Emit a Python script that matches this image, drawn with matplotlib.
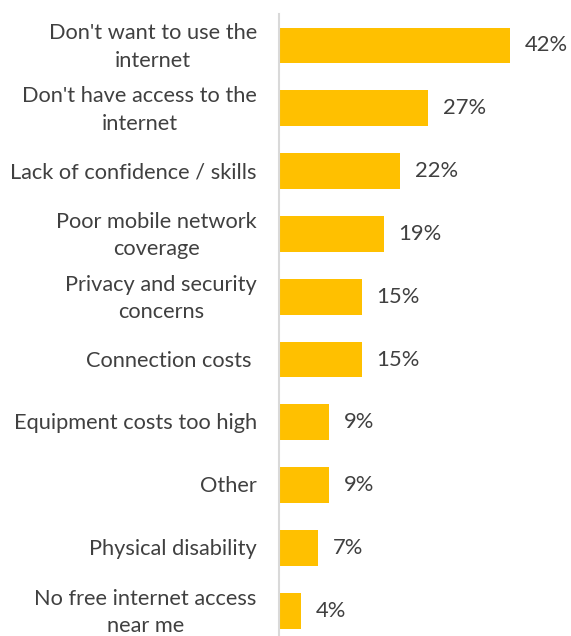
import matplotlib.pyplot as plt
from matplotlib.transforms import ScaledTranslation

# Data
categories = ["Don't want to use the\ninternet",
              "Don't have access to the\ninternet",
              "Lack of confidence / skills",
              "Poor mobile network\ncoverage",
              "Privacy and security\nconcerns",
              "Connection costs ",
              "Equipment costs too high",
              "Other",
              "Physical disability",
              "No free internet access\nnear me"]
values = [42, 27, 22, 19, 15, 15, 9, 9, 7, 4]

plt.rcParams['font.family'] = ['Lato', 'DejaVu Sans']
text_col = '#404040'

fig = plt.figure(figsize=(5.71, 6.36), dpi=100)
ax = fig.add_axes([279 / 571, 0, 292 / 571, 622 / 636])

pos = list(range(len(categories)))
ax.barh(pos, values, height=0.57, color='#FFC000')
for p, v in zip(pos, values):
    ax.text(v + 2.7, p, "{}%".format(v), va='center', ha='left',
            fontsize=15.8, color=text_col)

ax.set_xlim(0, 53)
ax.set_ylim(9.4, -0.5)
ax.set_yticks(pos)
ax.set_yticklabels(categories, fontsize=15.7, color=text_col)
ax.tick_params(axis='y', length=0, pad=16)
ax.set_xticks([])

# nudge labels up a little (multi-line ones sit a bit low)
for lbl in ax.get_yticklabels():
    lbl.set_multialignment('center')
    lbl.set_linespacing(1.47)
    dy = 4 if '\n' in lbl.get_text() else 1
    lbl.set_transform(lbl.get_transform() +
                      ScaledTranslation(0, dy / 100, fig.dpi_scale_trans))

for s in ['top', 'right', 'bottom']:
    ax.spines[s].set_visible(False)
ax.spines['left'].set_color('#D9D9D9')
ax.spines['left'].set_linewidth(1.5)

fig.savefig('out.png', dpi=100)
